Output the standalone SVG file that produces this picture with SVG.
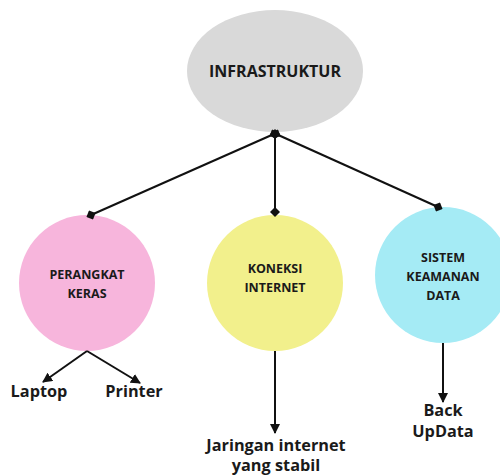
<svg xmlns="http://www.w3.org/2000/svg" width="500" height="475" viewBox="0 0 500 475">
  <style>
    .lbl { font-family: "Open Sans", "Liberation Sans", sans-serif; font-weight: bold; fill: #1a1a1a; text-anchor: middle; }
    .node-text { font-size: 12.5px; }
    .leaf-text { font-size: 16.3px; }
    .link { stroke: #111; stroke-width: 2; fill: none; }
  </style>
  <defs>
    <marker id="dot" viewBox="0 0 10 10" refX="5" refY="5" markerWidth="5" markerHeight="5" orient="auto">
      <path d="M0,5 L5,0 L10,5 L5,10 Z" fill="#111"/>
    </marker>
    <marker id="arrow" viewBox="0 0 10 10" refX="9" refY="5" markerWidth="5" markerHeight="5" orient="auto">
      <path d="M0,0 L10,5 L0,10 Z" fill="#111"/>
    </marker>
  </defs>
  <rect width="500" height="475" fill="#ffffff"/>

  <g id="infrastruktur">
    <ellipse cx="275" cy="71" rx="88" ry="61" fill="#d9d9d9"/>
    <text class="lbl" x="275" y="77" font-size="16">INFRASTRUKTUR</text>
  </g>

  <g id="perangkat-keras">
    <circle cx="87" cy="283" r="68" fill="#f7b5dc"/>
    <text class="lbl node-text" x="87" y="279">PERANGKAT</text>
    <text class="lbl node-text" x="87" y="298">KERAS</text>
  </g>

  <g id="koneksi-internet">
    <circle cx="275" cy="283" r="68" fill="#f2f08c"/>
    <text class="lbl node-text" x="275" y="273">KONEKSI</text>
    <text class="lbl node-text" x="275" y="292">INTERNET</text>
  </g>

  <g id="sistem-keamanan-data">
    <circle cx="443" cy="275" r="68" fill="#a5ebf5"/>
    <text class="lbl node-text" x="443" y="262">SISTEM</text>
    <text class="lbl node-text" x="443" y="281">KEAMANAN</text>
    <text class="lbl node-text" x="443" y="300">DATA</text>
  </g>

  <g id="laptop"><text class="lbl leaf-text" x="39" y="397">Laptop</text></g>
  <g id="printer"><text class="lbl leaf-text" x="134" y="397">Printer</text></g>
  <g id="jaringan"><text class="lbl leaf-text" x="276" y="451">Jaringan internet</text><text class="lbl leaf-text" x="276" y="471">yang stabil</text></g>
  <g id="backup"><text class="lbl leaf-text" x="443" y="416">Back</text><text class="lbl leaf-text" x="443" y="437">UpData</text></g>

  <g id="connectors">
    <line class="link" x1="274" y1="134" x2="91" y2="215" marker-start="url(#dot)" marker-end="url(#dot)"/>
    <line class="link" x1="275" y1="134" x2="275" y2="212" marker-start="url(#dot)" marker-end="url(#dot)"/>
    <line class="link" x1="276" y1="134" x2="438" y2="207" marker-start="url(#dot)" marker-end="url(#dot)"/>
    <line class="link" x1="87" y1="351" x2="43" y2="382" marker-end="url(#arrow)"/>
    <line class="link" x1="87" y1="351" x2="140" y2="383" marker-end="url(#arrow)"/>
    <line class="link" x1="275" y1="351" x2="275" y2="433" marker-end="url(#arrow)"/>
    <line class="link" x1="443" y1="343" x2="443" y2="402" marker-end="url(#arrow)"/>
  </g>
</svg>
